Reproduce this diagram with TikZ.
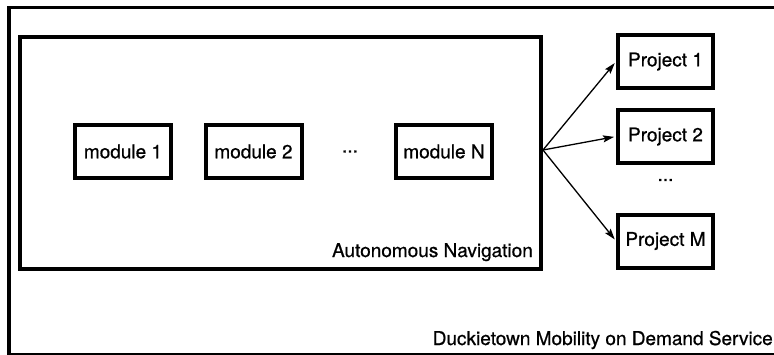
\documentclass[tikz,border=0pt]{standalone}
\usepackage{fontspec}
\setmainfont{TeX Gyre Heros}[FakeBold=0.7]
\usetikzlibrary{arrows.meta}
\begin{document}
\begin{tikzpicture}[x=1pt,y=-1pt,
  every node/.style={font=\fontsize{19}{22}\selectfont, inner sep=0pt},
  box/.style={draw, line width=4pt, rectangle, minimum width=96pt, minimum height=53pt},
  frame/.style={draw, rectangle},
  link/.style={line width=1.3pt, -{Stealth[length=11pt,width=7pt,inset=2pt]}, shorten >=2pt}]
  \useasboundingbox (0,0) rectangle (774,354);
  \begin{scope}
  \clip (0,0) rectangle (774,354);
  % outer service frame (runs past the page on the right)
  \node[frame, line width=3.5pt, minimum width=820pt, minimum height=347pt,
        anchor=north west] (service) at (7,5.5) {};
  \end{scope}
  \node[anchor=base east] (servicelabel) at (773,345) {Duckietown Mobility on Demand Service};

  % autonomous navigation container
  \node[frame, line width=4pt, minimum width=521pt, minimum height=232pt,
        anchor=north west] (nav) at (18,35) {};
  \node[anchor=base east] (navlabel) at (533,257) {Autonomous Navigation};

  % modules
  \node[box] (m1) at (123,151.5) {module 1};
  \node[box] (m2) at (253.5,151.5) {module 2};
  \node (mdots) at (350,151.5) {...};
  \node[box] (mN) at (444,151.5) {module N};

  % projects
  \node[box, minimum width=95pt] (p1) at (665.5,61.5) {Project 1};
  \node[box, minimum width=95pt] (p2) at (665.5,136.5) {Project 2};
  \node (pdots) at (665.5,180) {...};
  \node[box, minimum width=95pt] (pM) at (665.5,241) {Project M};

  % links from the navigation stack to the projects
  \coordinate (src) at (nav.east |- 0,150);
  \draw[link] (src) -- (p1.west);
  \draw[link] (src) -- (p2.west);
  \draw[link] (src) -- (pM.west);
\end{tikzpicture}
\end{document}
